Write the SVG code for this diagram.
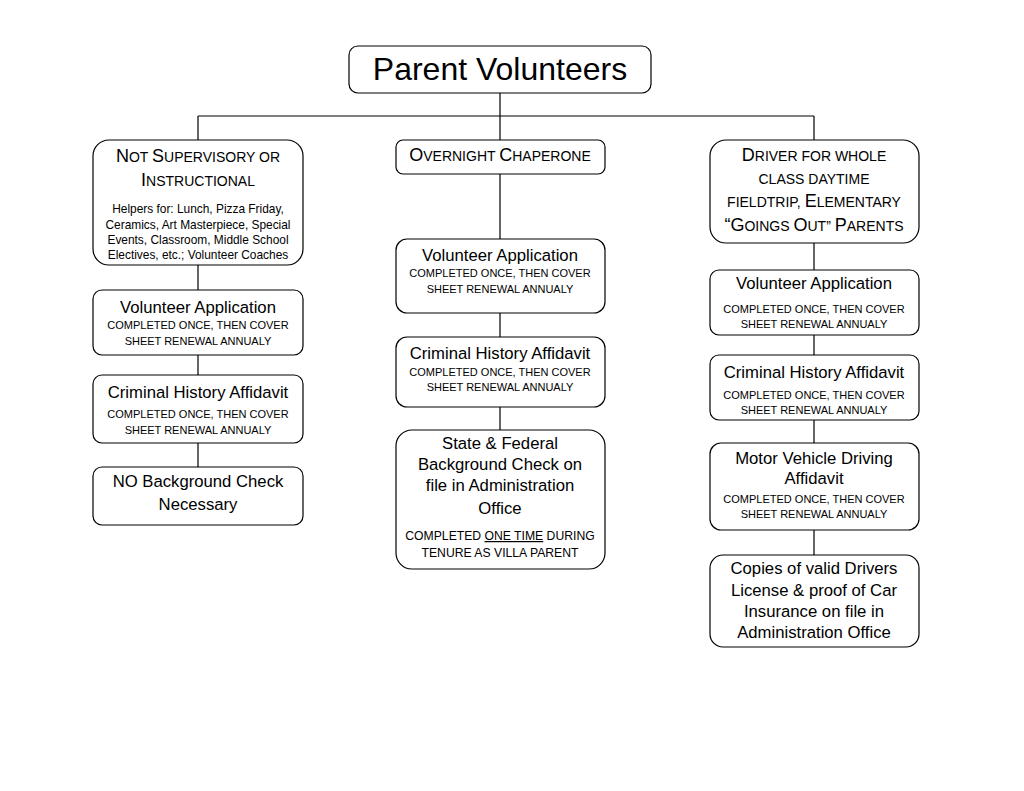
<svg xmlns="http://www.w3.org/2000/svg" width="1024" height="791" viewBox="0 0 1024 791">
<style>
.box{fill:#fff;stroke:#000;stroke-width:1.2}
.ln{stroke:#000;stroke-width:1.2;fill:none}
text{font-family:"Liberation Sans",Arial,sans-serif;fill:#000;text-anchor:middle}
.t{font-size:16.7px}
.s{font-size:11px}
.h{font-size:11.9px}
.u{font-size:12.2px}
.sc{font-size:18px}
.scs{font-size:14px}
</style>
<rect width="1024" height="791" fill="#fff"/>
<g id="connectors">
<path class="ln" d="M500 93V116M198 116H814M198 116V140M500 116V140M814 116V140"/>
<path class="ln" d="M198 265V290M198 355V375M198 443V467"/>
<path class="ln" d="M500 174V239M500 313V337M500 407V430"/>
<path class="ln" d="M814 243V270M814 335V355M814 420V443M814 530V555"/>
</g>
<g id="root">
<rect class="box" x="349" y="46" width="302" height="47" rx="9"/>
<text x="500" y="80" style="font-size:32px">Parent Volunteers</text>
</g>
<g id="not-supervisory">
<rect class="box" x="93" y="140" width="210" height="125" rx="16"/>
<text x="198" y="162" class="scs"><tspan class="sc">N</tspan>OT <tspan class="sc">S</tspan>UPERVISORY OR</text>
<text x="198" y="186" class="scs"><tspan class="sc">I</tspan>NSTRUCTIONAL</text>
<text x="198" y="213" class="h">Helpers for: Lunch, Pizza Friday,</text>
<text x="198" y="229" class="h">Ceramics, Art Masterpiece, Special</text>
<text x="198" y="244" class="h">Events, Classroom, Middle School</text>
<text x="198" y="259" class="h">Electives, etc.; Volunteer Coaches</text>
</g>
<g id="left-volunteer-app">
<rect class="box" x="93" y="290" width="210" height="65" rx="9"/>
<text x="198" y="313" class="t">Volunteer Application</text>
<text x="198" y="329" class="s">COMPLETED ONCE, THEN COVER</text>
<text x="198" y="345" class="s">SHEET RENEWAL ANNUALY</text>
</g>
<g id="left-criminal">
<rect class="box" x="93" y="375" width="210" height="68" rx="9"/>
<text x="198" y="398" class="t">Criminal History Affidavit</text>
<text x="198" y="418" class="s">COMPLETED ONCE, THEN COVER</text>
<text x="198" y="434" class="s">SHEET RENEWAL ANNUALY</text>
</g>
<g id="left-no-bg">
<rect class="box" x="93" y="467" width="210" height="58" rx="9"/>
<text x="198" y="487" class="t">NO Background Check</text>
<text x="198" y="510" class="t">Necessary</text>
</g>
<g id="overnight">
<rect class="box" x="396" y="140" width="209" height="34" rx="7"/>
<text x="500" y="161" class="scs"><tspan class="sc">O</tspan>VERNIGHT <tspan class="sc">C</tspan>HAPERONE</text>
</g>
<g id="mid-volunteer-app">
<rect class="box" x="396" y="239" width="209" height="74" rx="11"/>
<text x="500" y="261" class="t">Volunteer Application</text>
<text x="500" y="277" class="s">COMPLETED ONCE, THEN COVER</text>
<text x="500" y="293" class="s">SHEET RENEWAL ANNUALY</text>
</g>
<g id="mid-criminal">
<rect class="box" x="396" y="337" width="209" height="70" rx="11"/>
<text x="500" y="359" class="t">Criminal History Affidavit</text>
<text x="500" y="376" class="s">COMPLETED ONCE, THEN COVER</text>
<text x="500" y="391" class="s">SHEET RENEWAL ANNUALY</text>
</g>
<g id="mid-background">
<rect class="box" x="396" y="430" width="209" height="139" rx="16"/>
<text x="500" y="449" class="t">State &amp; Federal</text>
<text x="500" y="470" class="t">Background Check on</text>
<text x="500" y="491" class="t">file in Administration</text>
<text x="500" y="514" class="t">Office</text>
<text x="500" y="540" class="u">COMPLETED <tspan text-decoration="underline">ONE TIME</tspan> DURING</text>
<text x="500" y="557" class="u">TENURE AS VILLA PARENT</text>
</g>
<g id="driver">
<rect class="box" x="710" y="140" width="209" height="103" rx="16"/>
<text x="814" y="161" class="scs"><tspan class="sc">D</tspan>RIVER FOR WHOLE</text>
<text x="814" y="184" class="scs">CLASS DAYTIME</text>
<text x="814" y="207" class="scs">FIELDTRIP, <tspan class="sc">E</tspan>LEMENTARY</text>
<text x="814" y="231" class="scs"><tspan class="sc">“G</tspan>OINGS <tspan class="sc">O</tspan>UT” <tspan class="sc">P</tspan>ARENTS</text>
</g>
<g id="right-volunteer-app">
<rect class="box" x="710" y="270" width="209" height="65" rx="9"/>
<text x="814" y="289" class="t">Volunteer Application</text>
<text x="814" y="313" class="s">COMPLETED ONCE, THEN COVER</text>
<text x="814" y="328" class="s">SHEET RENEWAL ANNUALY</text>
</g>
<g id="right-criminal">
<rect class="box" x="710" y="355" width="209" height="65" rx="9"/>
<text x="814" y="378" class="t">Criminal History Affidavit</text>
<text x="814" y="399" class="s">COMPLETED ONCE, THEN COVER</text>
<text x="814" y="414" class="s">SHEET RENEWAL ANNUALY</text>
</g>
<g id="right-motor">
<rect class="box" x="710" y="443" width="209" height="87" rx="11"/>
<text x="814" y="464" class="t">Motor Vehicle Driving</text>
<text x="814" y="484" class="t">Affidavit</text>
<text x="814" y="503" class="s">COMPLETED ONCE, THEN COVER</text>
<text x="814" y="518" class="s">SHEET RENEWAL ANNUALY</text>
</g>
<g id="right-copies">
<rect class="box" x="710" y="555" width="209" height="92" rx="13"/>
<text x="814" y="574" class="t">Copies of valid Drivers</text>
<text x="814" y="596" class="t">License &amp; proof of Car</text>
<text x="814" y="617" class="t">Insurance on file in</text>
<text x="814" y="638" class="t">Administration Office</text>
</g>
</svg>
